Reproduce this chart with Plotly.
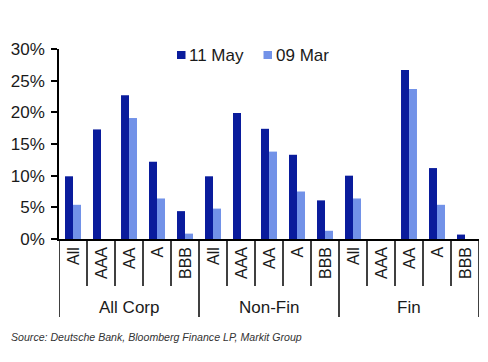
import plotly.graph_objects as go

groups = ["All Corp", "Non-Fin", "Fin"]
ratings = ["All", "AAA", "AA", "A", "BBB"]
series_names = ["11 May", "09 Mar"]
may11 = [9.9, 17.3, 22.7, 12.2, 4.4,
         9.9, 19.9, 17.4, 13.3, 6.1,
         10.0, 0.0, 26.7, 11.2, 0.7]
mar09 = [5.4, 0.0, 19.1, 6.4, 0.85,
         4.8, 0.0, 13.8, 7.5, 1.3,
         6.4, 0.0, 23.7, 5.4, 0.0]
yticks = [0, 5, 10, 15, 20, 25, 30]
ytick_labels = ["0%", "5%", "10%", "15%", "20%", "25%", "30%"]
source_text = "Source: Deutsche Bank, Bloomberg Finance LP, Markit Group"

DARK = "#0A1C9C"
LIGHT = "#7292E8"
TEXT = "#1a1a1a"
FONT = "Liberation Sans, Arial, sans-serif"

W, H = 488, 362
L, R, T, B = 59, 9, 49, 123
PW, PH = W - L - R, H - T - B


def px_x(px):
    return (px - L) / PW


def px_y(py):
    return (H - B - py) / PH


n = len(groups) * len(ratings)
xs = list(range(n))

fig = go.Figure()
fig.add_trace(go.Bar(x=xs, y=may11, name=series_names[0], marker_color=DARK, marker_line_width=0))
fig.add_trace(go.Bar(x=xs, y=mar09, name=series_names[1], marker_color=LIGHT, marker_line_width=0))

shapes = []
annotations = []
for i in range(n + 1):
    xpos = i - 0.5
    is_group = (i % len(ratings) == 0)
    shapes.append(dict(type="line", xref="x", yref="paper", x0=xpos, x1=xpos,
                       y0=0, y1=px_y(317) if is_group else px_y(286),
                       line=dict(color="black", width=1.5)))
for gi, g in enumerate(groups):
    for ri, r in enumerate(ratings):
        annotations.append(dict(x=gi * len(ratings) + ri, y=px_y(245), xref="x", yref="paper",
                                text=r, textangle=-90, showarrow=False,
                                xanchor="center", yanchor="top",
                                font=dict(size=16, color=TEXT, family=FONT)))
    annotations.append(dict(x=gi * len(ratings) + (len(ratings) - 1) / 2, y=px_y(307),
                            xref="x", yref="paper", text=g, showarrow=False,
                            xanchor="center", yanchor="middle",
                            font=dict(size=17, color=TEXT, family=FONT)))
annotations.append(dict(x=px_x(9), y=px_y(337), xref="paper", yref="paper",
                        xanchor="left", yanchor="middle",
                        text="<i>" + source_text + "</i>",
                        showarrow=False, font=dict(size=10.6, color="#333", family=FONT)))

# legend (drawn manually)
legend_items = [(series_names[0], DARK, 177, 187), (series_names[1], LIGHT, 263.5, 273.5)]
for name, col, sx, tx in legend_items:
    shapes.append(dict(type="rect", xref="paper", yref="paper",
                       x0=px_x(sx), x1=px_x(sx + 8.5), y0=px_y(59), y1=px_y(51),
                       fillcolor=col, line=dict(width=0)))
    annotations.append(dict(x=px_x(tx), y=px_y(55), xref="paper", yref="paper",
                            xanchor="left", yanchor="middle", text=name, showarrow=False,
                            font=dict(size=17, color=TEXT, family=FONT)))

fig.update_layout(
    width=W, height=H,
    margin=dict(l=L, r=R, t=T, b=B),
    paper_bgcolor="white", plot_bgcolor="white",
    barmode="group", bargap=0.43, bargroupgap=0,
    font=dict(family=FONT, size=17, color=TEXT),
    showlegend=False,
    shapes=shapes, annotations=annotations,
)
fig.update_xaxes(range=[-0.5, n - 0.5], showticklabels=False, showgrid=False,
                 zeroline=False, showline=True, linecolor="black", linewidth=1.5, ticks="")
fig.update_yaxes(range=[0, 30], tickvals=yticks, ticktext=ytick_labels, showgrid=False,
                 zeroline=False, showline=True, linecolor="black", linewidth=1.5,
                 ticks="outside", ticklen=6, tickcolor="black", tickwidth=1.5,
                 ticklabelstandoff=3,
                 tickfont=dict(size=17, color=TEXT))

fig.write_html("out.html", config={"displayModeBar": False},
               post_script="document.body.style.margin='0';")
